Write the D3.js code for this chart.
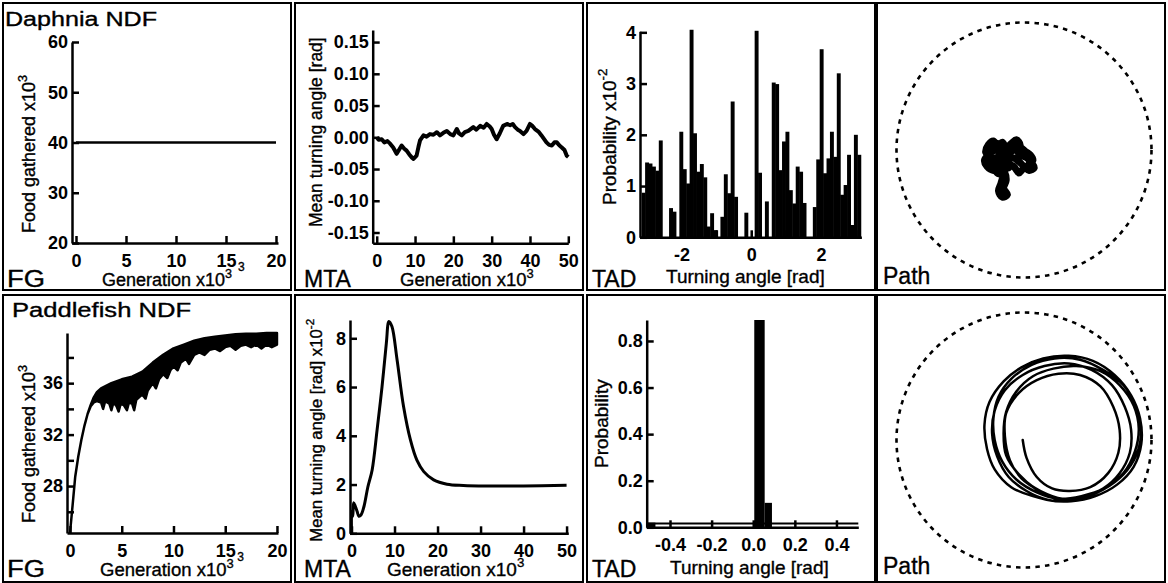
<!DOCTYPE html>
<meta charset="utf-8">
<style>
body { margin: 0; background: #fff; }
svg text { font-family: "Liberation Sans", Arial, sans-serif; fill: #000; stroke: #000; stroke-width: 0.35; }
.axis .tick text { font-size: 18px; font-weight: bold; stroke-width: 0; }
.axis path, .axis line { stroke: #000; stroke-width: 2.5; }
.frame { fill: none; stroke: #000; stroke-width: 2; }
</style>
<body>
<script src="https://cdnjs.cloudflare.com/ajax/libs/d3/7.8.5/d3.min.js"></script>
<script>

// ---- data ----
// Daphnia NDF
var fgDaphnia = [[0, 40], [5, 40], [10, 40], [15, 40], [20, 40]];   // food gathered x10^3 vs generation x10^3

var mtaDaphnia = [[0,0.0],[0.5,-0.004],[1.3,-0.003],[2,-0.008],[2.8,-0.006],[3.5,-0.010],[4.3,-0.016],
  [5.2,-0.026],[5.8,-0.020],[6.5,-0.013],[7.2,-0.018],[7.8,-0.021],[8.5,-0.027],[9.2,-0.032],[9.6,-0.034],
  [10.4,-0.029],[10.9,-0.015],[11.3,-0.005],[12.2,0.003],[13,0.001],[13.9,0.005],[14.8,0.004],[15.7,0.008],
  [16.5,0.003],[17.4,0.007],[18.3,0.010],[19.2,0.005],[20,0.003],[20.9,0.013],[21.5,0.006],[22.2,0.003],
  [23,0.008],[23.9,0.010],[25.2,0.016],[26,0.012],[27,0.018],[27.9,0.015],[28.7,0.021],[29.5,0.017],
  [30,0.013],[30.6,0.004],[31.3,-0.003],[32.1,0.006],[33,0.018],[34,0.021],[34.8,0.019],[35.5,0.021],
  [36.1,0.016],[36.8,0.012],[37.4,0.010],[38.3,0.005],[39.1,0.010],[40,0.021],[40.6,0.018],[41.3,0.013],
  [42.2,0.009],[43,0.003],[43.6,-0.002],[44.3,-0.008],[45,-0.012],[45.7,-0.013],[46.4,-0.008],[47,-0.008],
  [47.7,-0.013],[48.3,-0.016],[49,-0.020],[49.6,-0.029],[50,-0.031]];

// turning angle histogram, 64 bins over [-pi, pi], probability x10^-2
var tadDaphniaProb = [0.87,1.46,1.44,1.38,1.30,1.89,0,0,0.57,0.50,
  0,2.06,1.33,1.05,4.05,2.03,1.28,1.43,1.17,0.21,
  0.47,0.14,0,0.4,1.23,0.86,2.65,0.79,0,0,
  0.48,0,0,4.03,1.26,0,0.7,0,3.02,2.99,
  1.31,1.87,2.06,0.92,0.66,1.38,1.28,0.67,0,0,
  0.59,1.52,3.67,1.25,1.54,2.06,1.57,3.2,0.83,1.02,
  1.61,0.24,2.0,1.61];

// path, in % of arena radius
var pathDaphnia = [[-12,-14],[-16,-10],[-22,-12],[-26,-6],[-30,-2],[-28,4],[-24,7],[-20,3],[-17,6],[-14,2],
  [-10,5],[-6,8],[-3,4],[-6,0],[-2,-4],[2,-6],[6,-10],[8,-14],[4,-16],[0,-13],[-4,-9],[-9,-6],[-13,-8],
  [-18,-4],[-22,0],[-27,-3],[-31,-8],[-29,-13],[-24,-16],[-19,-14],[-15,-18],[-14,-24],[-16,-30],[-13,-35],
  [-17,-37],[-20,-32],[-18,-26],[-17,-20],[-21,-18],[-25,-11],[-22,-6],[-18,-9],[-12,-11],[-8,-13],[-4,-18],
  [-1,-15],[3,-12],[7,-8],[5,-4],[1,-1],[-3,2],[-8,1],[-12,-3],[-16,1],[-20,5],[-25,2],[-28,-5],[-26,-10],
  [-20,-10],[-15,-13]];

// Paddlefish NDF
var fgPaddleUpper = [[0,24.35],[0.25,26.5],[0.5,28.7],[0.8,30.3],[1.1,31.6],[1.4,32.7],[1.7,33.6],[2.0,34.3],
  [2.3,34.9],[2.6,35.3],[3,35.6],[4,36.0],[5,36.3],[6,36.5],[7,36.9],[8,37.6],[9,38.2],[10,38.7],[11,39.0],
  [12,39.3],[13,39.5],[14,39.6],[15,39.7],[16,39.8],[17,39.85],[18,39.85],[19,39.9],[20,39.9]];
var fgPaddleLower = [[0,24.35],[0.25,26.5],[0.5,28.7],[0.8,30.3],[1.1,31.6],[1.4,32.7],[1.7,33.6],[2.0,34.2],
  [2.3,34.5],[2.6,34.6],[3.0,34.5],[3.2,34.0],[3.4,34.6],[3.8,34.4],[4.0,33.9],[4.2,34.5],[4.5,34.2],[4.7,33.8],
  [4.9,34.4],[5.2,34.3],[5.5,33.9],[5.7,34.5],[6.0,34.4],[6.2,33.9],[6.4,34.7],[6.8,35.0],[7.0,35.1],[7.3,34.8],
  [7.5,35.4],[8.0,36.0],[8.3,35.6],[8.6,36.3],[9.0,36.7],[9.4,36.4],[9.7,37.0],[10.0,37.3],[10.4,37.0],
  [10.7,37.6],[11.2,37.9],[11.5,37.5],[12.0,38.2],[12.5,38.4],[13.0,38.2],[13.5,38.6],[14.0,38.7],[14.5,38.5],
  [15.0,38.8],[15.5,38.9],[16.0,38.6],[16.5,38.9],[17.0,39.0],[17.5,38.8],[18.0,39.0],[18.5,38.7],[19.0,39.0],
  [19.5,38.8],[20.0,39.0]];

// mean turning angle x10^-2
var mtaPaddle = [[0,0],[0.05,0.9],[0.3,0.7],[0.5,1.25],[0.9,1.1],[1.3,0.9],[1.7,0.7],[2.2,0.75],[2.9,1.1],
  [3.8,1.9],[4.8,2.6],[5.95,4.24],[7.1,6.02],[8.1,7.8],[8.7,8.69],[9.4,8.48],[10.6,7.11],[12.1,5.2],
  [13.7,3.83],[15.2,3.0],[16.8,2.53],[19.1,2.19],[22.2,2.01],[26,1.96],[32,1.94],[40,1.94],[50,1.97]];

// histogram bars [from, to, probability]
var tadPaddleBars = [[-0.512,-0.47,0.02],[0.005,0.055,0.89],[0.055,0.09,0.105]];
var tadPaddleFloor = 0.016;

var pathPaddle = [[-1,0],[2,-14],[10,-29],[22,-38],[36,-40],[52,-37],[66,-26],[74,-10],[75,8],[70,26],
  [60,42],[44,51],[27,52],[10,47],[-4,37],[-14,21],[-15,3],[-11,-16],[-2,-30],[13,-40],[30,-46],[46,-44],
  [62,-38],[75,-26],[83,-10],[84,8],[79,26],[69,43],[53,55],[35,60],[16,58],[-1,51],[-15,39],[-23,23],
  [-25,5],[-21,-13],[-12,-29],[2,-40],[19,-47],[37,-48],[56,-44],[73,-35],[86,-21],[92,-3],[91,17],[84,35],
  [71,51],[54,62],[35,66],[15,64],[-2,57],[-16,46],[-27,30],[-31,12],[-29,-7],[-23,-23],[-10,-37],[7,-44],
  [26,-48],[44,-46],[62,-39],[78,-27],[88,-12],[92,7],[88,26],[78,43],[62,55],[44,63],[24,64],[6,59],
  [-10,48],[-20,34],[-24,17],[-23,0],[-17,-17],[-6,-31],[10,-41],[27,-46],[45,-44],[63,-38],[78,-26],
  [87,-9],[90,9],[86,27],[75,43],[60,54],[41,58],[23,56],[7,50],[-6,38],[-14,22],[-16,5],[-14,-12],
  [-4,-27],[10,-39],[24,-46],[32,-48]];

// ---- drawing ----
var svg = d3.select("body").append("svg")
    .attr("width", 1168)
    .attr("height", 583);

// panel boxes
[3, 295, 587, 877].forEach(function(px) {
  [3, 295].forEach(function(py) {
    svg.append("rect").attr("class", "frame")
      .attr("x", px).attr("y", py).attr("width", 288).attr("height", 287);
  });
});

function text(x, y, s, size, len) {
  var t = svg.append("text").attr("x", x).attr("y", y)
    .style("font-size", size + "px").text(s);
  if (len) t.attr("textLength", len).attr("lengthAdjust", "spacingAndGlyphs");
  return t;
}

// title with a superscript
function title(x, y, s, sup, size, rotate) {
  var t = svg.append("text").style("font-size", size + "px");
  if (rotate) t.attr("transform", "translate(" + x + "," + y + ") rotate(-90)");
  else t.attr("x", x).attr("y", y);
  t.append("tspan").text(s);
  if (sup) t.append("tspan").attr("dy", -size * 0.45).style("font-size", (size * 0.7) + "px").text(sup);
  return t;
}

function axes(x, y, xt, yt, xf, yf) {
  var ax = d3.axisBottom(x).tickValues(xt).tickSize(-7).tickSizeOuter(0).tickPadding(11);
  if (xf) ax.tickFormat(xf);
  var ay = d3.axisLeft(y).tickValues(yt).tickSize(-7).tickSizeOuter(0).tickPadding(4);
  if (yf) ay.tickFormat(yf);
  svg.append("g").attr("class", "axis").attr("transform", "translate(0," + y.range()[0] + ")").call(ax);
  svg.append("g").attr("class", "axis").attr("transform", "translate(" + x.range()[0] + ",0)").call(ay);
}

// ===== Daphnia FG =====
var x1 = d3.scaleLinear().domain([-0.4, 20.2]).range([72, 278]);
var y1 = d3.scaleLinear().domain([20, 60]).range([243, 42]);
svg.append("path").datum(fgDaphnia)
  .attr("d", d3.line().x(function(d) { return x1(d[0]); }).y(function(d) { return y1(d[1]); }))
  .attr("fill", "none").attr("stroke", "#000").attr("stroke-width", 2.5);
axes(x1, y1, [0, 5, 10, 15, 20], [20, 30, 40, 50, 60]);
text(x1(15) + 12, 271, "3", 12);
text(5, 26, "Daphnia NDF", 20, 152);
text(7, 287, "FG", 23, 38);
title(102, 286, "Generation x10", "3", 18);
title(35, 233, "Food gathered x10", "3", 18, true);

// ===== Daphnia MTA =====
var x2 = d3.scaleLinear().domain([-1.05, 50]).range([372.7, 568.3]);
var y2 = d3.scaleLinear().domain([-0.167, 0.169]).range([243.3, 30]);
axes(x2, y2, [0, 10, 20, 30, 40, 50], [-0.15, -0.10, -0.05, 0, 0.05, 0.10, 0.15], null,
  function(d) { return d.toFixed(2); });
svg.append("path").datum(mtaDaphnia)
  .attr("d", d3.line().x(function(d) { return x2(d[0]); }).y(function(d) { return y2(d[1]); }))
  .attr("fill", "none").attr("stroke", "#000").attr("stroke-width", 4).attr("stroke-linejoin", "round");
text(304, 287, "MTA", 23);
title(400, 286, "Generation x10", "3", 18.5);
title(321.7, 227, "Mean turning angle [rad]", null, 17.5, true);

// ===== Daphnia TAD =====
var x3 = d3.scaleLinear().domain([-3.19, 3.16]).range([640, 861.4]);
var y3 = d3.scaleLinear().domain([0, 4.02]).range([237.3, 31.3]);
var binW = 2 * Math.PI / tadDaphniaProb.length;
svg.append("g").selectAll("rect").data(tadDaphniaProb).join("rect")
  .attr("x", function(d, i) { return x3(-Math.PI + i * binW); })
  .attr("width", x3(binW) - x3(0) + 0.5)
  .attr("y", function(d) { return y3(d); })
  .attr("height", function(d) { return y3(0) - y3(d); })
  .attr("fill", "#000");
axes(x3, y3, [-3, -2, -1, 0, 1, 2, 3], [0, 1, 2, 3, 4],
  function(d) { return d % 2 === 0 ? d : ""; }, function(d) { return d; });
text(592, 287, "TAD", 23);
title(666, 283, "Turning angle [rad]", null, 19);
title(616, 205, "Probability x10", "-2", 19, true);

// ===== Path panels =====
function pathPanel(data, cx, cy, width) {
  var px = d3.scaleLinear().domain([-100, 100]).range([cx - 127.5, cx + 127.5]);
  var py = d3.scaleLinear().domain([-100, 100]).range([cy + 127.5, cy - 127.5]);
  svg.append("circle").attr("cx", px(0)).attr("cy", py(0)).attr("r", px(100) - px(0))
    .attr("fill", "none").attr("stroke", "#000").attr("stroke-width", 2.6).attr("stroke-dasharray", "4.5 5.2");
  svg.append("path").datum(data)
    .attr("d", d3.line().curve(d3.curveCatmullRom).x(function(d) { return px(d[0]); }).y(function(d) { return py(d[1]); }))
    .attr("fill", "none").attr("stroke", "#000").attr("stroke-width", width)
    .attr("stroke-linejoin", "round").attr("stroke-linecap", "round");
}
pathPanel(pathDaphnia, 1024, 150, 7);
text(883, 284, "Path", 23);
pathPanel(pathPaddle, 1024, 440, 2.5);
text(883, 574, "Path", 23);

// ===== Paddlefish FG =====
var x5 = d3.scaleLinear().domain([-0.29, 20.1]).range([67, 278]);
var y5 = d3.scaleLinear().domain([24.35, 39.9]).range([533, 333]);
var band = fgPaddleUpper.concat(fgPaddleLower.slice().reverse());
svg.append("path").datum(band)
  .attr("d", d3.line().x(function(d) { return x5(d[0]); }).y(function(d) { return y5(d[1]); }))
  .attr("fill", "#000").attr("stroke", "#000").attr("stroke-width", 2.5).attr("stroke-linejoin", "round");
axes(x5, y5, [0, 5, 10, 15, 20], [26, 28, 30, 32, 34, 36, 38], null,
  function(d) { return d % 4 === 0 ? d : ""; });
text(x5(15) + 12, 561, "3", 12);
text(12, 317, "Paddlefish NDF", 20, 179);
text(7, 577, "FG", 23, 38);
title(100, 576, "Generation x10", "3", 18.5);
title(35, 523, "Food gathered x10", "3", 18, true);

// ===== Paddlefish MTA =====
var x6 = d3.scaleLinear().domain([-0.35, 50.4]).range([350, 568.3]);
var y6 = d3.scaleLinear().domain([0, 8.75]).range([533.3, 320]);
svg.append("path").datum(mtaPaddle)
  .attr("d", d3.line().curve(d3.curveCatmullRom).x(function(d) { return x6(d[0]); }).y(function(d) { return y6(d[1]); }))
  .attr("fill", "none").attr("stroke", "#000").attr("stroke-width", 3).attr("stroke-linejoin", "round");
axes(x6, y6, [0, 10, 20, 30, 40, 50], [0, 2, 4, 6, 8]);
text(304, 577, "MTA", 23);
title(387, 576, "Generation x10", "3", 19);
title(321.7, 541.7, "Mean turning angle [rad] x10", "-2", 16.7, true);

// ===== Paddlefish TAD =====
var x7 = d3.scaleLinear().domain([-0.512, 0.505]).range([646.7, 858.3]);
var y7 = d3.scaleLinear().domain([0, 0.89]).range([527.3, 320]);
svg.append("line").attr("x1", x7(-0.512)).attr("x2", x7(0.505))
  .attr("y1", y7(tadPaddleFloor)).attr("y2", y7(tadPaddleFloor))
  .attr("stroke", "#000").attr("stroke-width", 2);
svg.append("g").selectAll("rect").data(tadPaddleBars).join("rect")
  .attr("x", function(d) { return x7(d[0]); })
  .attr("width", function(d) { return x7(d[1]) - x7(d[0]); })
  .attr("y", function(d) { return y7(d[2]); })
  .attr("height", function(d) { return y7(0) - y7(d[2]); })
  .attr("fill", "#000");
axes(x7, y7, [-0.4, -0.2, 0, 0.2, 0.4], [0, 0.2, 0.4, 0.6, 0.8],
  function(d) { return d.toFixed(1); }, function(d) { return d.toFixed(1); });
text(592, 577, "TAD", 23);
title(670, 574, "Turning angle [rad]", null, 19);
title(608, 468, "Probability", null, 19, true);

</script>
</body>
